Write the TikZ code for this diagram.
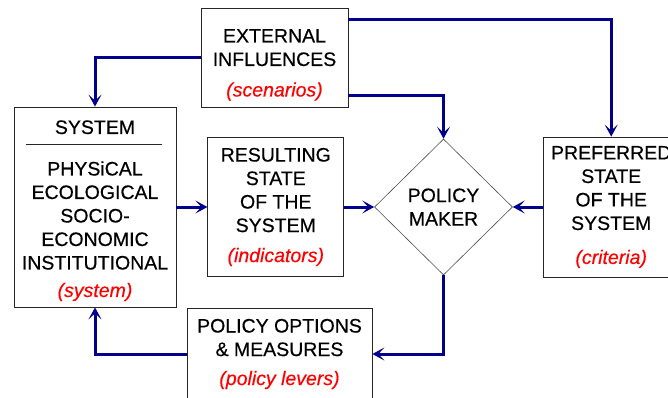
\documentclass[tikz,border=0pt]{standalone}
\usepackage{fontspec}
\setmainfont[FakeBold=0.4]{Liberation Sans}
\usepackage{xcolor}
\usetikzlibrary{arrows.meta, positioning, shapes.geometric}
\definecolor{arrblue}{RGB}{0,0,140}
\newcommand{\lever}[1]{\textcolor{red}{\itshape(#1)}}

\begin{document}
\begin{tikzpicture}[x=1pt, y=-1pt, node distance=30pt,
      BX/.style = {draw=black!85, line width=0.8pt, fill=white, align=center,
                   inner sep=0pt, font=\fontsize{19.5}{23.5}\selectfont},
      DM/.style = {diamond, draw=black!70, line width=0.6pt, align=center,
                   inner sep=0pt, minimum width=138pt, minimum height=136pt,
                   font=\fontsize{19.5}{23.5}\selectfont},
      AR/.style = {draw=arrblue, line width=3pt,
                   -{Stealth[length=12pt, width=13pt, inset=6pt]}} ]
\useasboundingbox (0,0) rectangle (668,398);

\node (ext) [BX, minimum width=147pt, minimum height=99pt] at (274.5,57.5)
      {\rule{0pt}{28pt}EXTERNAL\\INFLUENCES\\[7pt]\lever{scenarios}};
\node (sys) [BX, minimum width=162pt, minimum height=200pt] at (95,207)
      {\rule{0pt}{21pt}SYSTEM\\[18pt]PHYSiCAL\\ECOLOGICAL\\SOCIO-\\ECONOMIC\\INSTITUTIONAL\\[4pt]\lever{system}};
\draw[black!85, line width=0.8pt] ([xshift=12pt, yshift=-38pt]sys.north west)
      -- ([xshift=-14pt, yshift=-38pt]sys.north east);
\node (res) [BX, minimum width=136pt, minimum height=139pt, right=31pt of sys]
      {RESULTING\\STATE\\OF THE\\SYSTEM\\[6.5pt]\lever{indicators}};
\node (pm)  [DM, right=of res] {POLICY\\MAKER};
\node (pref) [BX, minimum width=136pt, minimum height=140pt, right=of pm]
      {PREFERRED\\STATE\\OF THE\\SYSTEM\\[10.5pt]\lever{criteria}};
\node (pol) [BX, minimum width=185pt, minimum height=92pt] at (279.5,354)
      {POLICY OPTIONS\\\& MEASURES\\[5.5pt]\lever{policy levers}};

% connectors
\draw[AR] (ext.west) -| (sys.north);
\draw[AR] ([yshift=-12pt]ext.north east) -| (pref.north);
\draw[AR] ([yshift=12pt]ext.south east) -| (pm.north);
\draw[AR] (sys.east) -- (res.west);
\draw[AR] (res.east) -- (pm.west);
\draw[AR] (pref.west) -- (pm.east);
\draw[AR] (pm.south) |- (pol.east);
\draw[AR] (pol.west) -| (sys.south);
\end{tikzpicture}
\end{document}
